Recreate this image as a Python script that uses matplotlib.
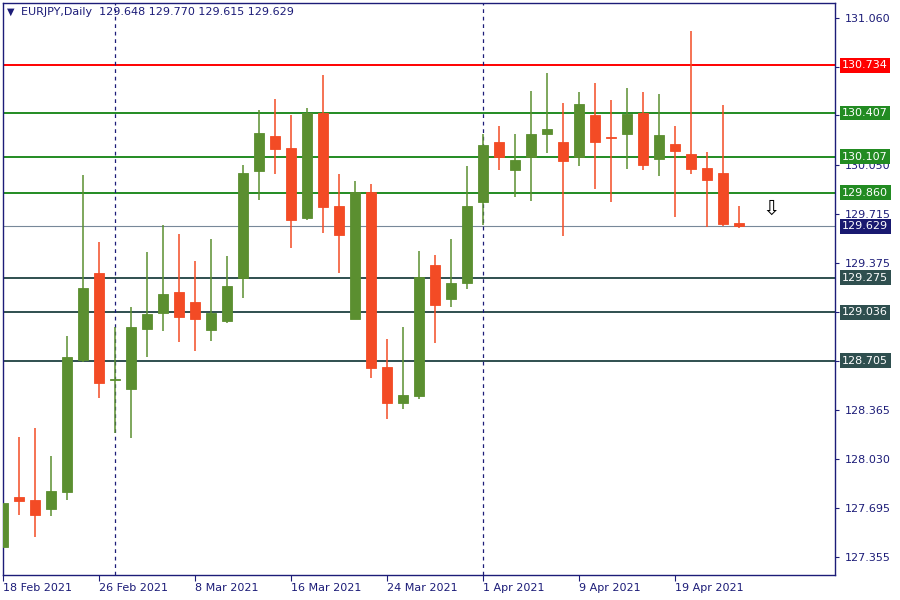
import matplotlib
matplotlib.use('Agg')
import matplotlib.pyplot as plt
import matplotlib.transforms as mtransforms
import numpy as np

plt.rcParams['font.family'] = ['DejaVu Sans']
plt.rcParams['font.size'] = 8

# daily OHLC, EURJPY 18 Feb - 23 Apr 2021
opens = [127.426, 127.767, 127.747, 127.687, 127.804, 128.709, 129.307, 128.570, 128.512, 128.924,
         129.032, 129.177, 129.108, 128.917, 128.979, 129.275, 130.010, 130.249, 130.166, 129.687,
         130.405, 129.768, 128.993, 129.864, 128.661, 128.416, 128.464, 129.362, 129.130, 129.240,
         129.797, 130.208, 130.017, 130.107, 130.263, 130.208, 130.107, 130.393, 130.242, 130.265,
         130.407, 130.093, 130.194, 130.125, 130.029, 129.995, 129.648]
highs = [127.802, 128.180, 128.242, 128.049, 128.874, 129.981, 129.520, 128.938, 129.073, 129.451,
         129.637, 129.575, 129.390, 129.541, 129.424, 130.050, 130.428, 130.503, 130.393, 130.441,
         130.668, 129.988, 129.940, 129.919, 128.853, 128.936, 129.458, 129.431, 129.541, 130.043,
         130.263, 130.318, 130.263, 130.558, 130.682, 130.476, 130.551, 130.613, 130.496, 130.579,
         130.551, 130.538, 130.318, 130.971, 130.139, 130.462, 129.770]
lows = [127.316, 127.644, 127.494, 127.637, 127.749, 128.695, 128.450, 128.209, 128.175, 128.732,
        128.908, 128.833, 128.773, 128.842, 128.960, 129.137, 129.809, 129.988, 129.481, 129.674,
        129.584, 129.309, 128.990, 128.587, 128.301, 128.374, 128.443, 128.828, 129.075, 129.199,
        129.639, 130.017, 129.832, 129.804, 130.134, 129.564, 130.045, 129.887, 129.797, 130.024,
        130.017, 129.976, 129.694, 129.990, 129.625, 129.632, 129.615]
closes = [127.726, 127.742, 127.646, 127.809, 128.730, 129.204, 128.553, 128.577, 128.936, 129.027,
          129.163, 129.007, 128.993, 129.032, 129.218, 129.995, 130.269, 130.162, 129.674, 130.405,
          129.763, 129.570, 129.864, 128.656, 128.416, 128.468, 129.280, 129.089, 129.238, 129.768,
          130.187, 130.107, 130.084, 130.263, 130.297, 130.079, 130.469, 130.210, 130.238, 130.400,
          130.052, 130.254, 130.148, 130.024, 129.948, 129.646, 129.629]

# date axis
tick_idx = [0, 6, 12, 18, 24, 30, 36, 42]
tick_labels = ['18 Feb 2021', '26 Feb 2021', '8 Mar 2021', '16 Mar 2021',
               '24 Mar 2021', '1 Apr 2021', '9 Apr 2021', '19 Apr 2021']
separator_idx = [7, 30]   # 1 Mar, 1 Apr

# horizontal levels
level_values = [130.734, 130.407, 130.107, 129.860, 129.275, 129.036, 128.705]
level_colors = ['#ff0000', '#228b22', '#228b22', '#228b22', '#2f4f4f', '#2f4f4f', '#2f4f4f']
last_price = 129.629

price_ticks = [127.355, 127.695, 128.030, 128.365, 128.705, 129.040, 129.375,
               129.715, 130.050, 130.390, 130.725, 131.060]
# these sit fully under a level box, so the terminal hides their text
hidden_ticks = [128.705, 129.040, 130.390, 130.725]

signal_idx = 48
signal_price = 129.745

header = 'EURJPY,Daily  129.648 129.770 129.615 129.629'

GREEN = '#5b8f30'
RED = '#f34b25'
NAVY = '#1c1c78'

fig = plt.figure(figsize=(9, 6), dpi=100)
ax = fig.add_axes([3 / 900, 25 / 600, 832 / 900, 572 / 600])

x = np.arange(len(opens))
o = np.array(opens)
h = np.array(highs)
l = np.array(lows)
c = np.array(closes)
cols = [GREEN if cc >= oo else RED for oo, cc in zip(o, c)]

# price levels
for val, col in zip(level_values, level_colors):
    ax.axhline(val, color=col, lw=1.4, zorder=1)
ax.axhline(last_price, color='#778899', lw=0.8, zorder=1)

# period separators
for s in separator_idx:
    ax.axvline(s, color=NAVY, lw=0.9, ls=(0, (3, 3)), zorder=1)

# candles
ax.vlines(x, l, h, colors=cols, lw=1.1, zorder=2)
ax.bar(x, np.abs(c - o), bottom=np.minimum(o, c), width=0.65, color=cols,
       edgecolor=cols, lw=0.6, zorder=3)

# signal arrow
ax.text(signal_idx, signal_price, '\u21e9', fontsize=15, ha='center', va='center',
        color='black', zorder=4)

ax.set_xlim(0, 52)
ax.set_ylim(127.231, 131.163)

ax.yaxis.tick_right()
ax.set_yticks(price_ticks)
ax.set_yticklabels(['' if v in hidden_ticks else f'{v:.3f}' for v in price_ticks])
ax.tick_params(axis='y', length=3, width=0.8, color=NAVY, labelcolor=NAVY, pad=4, labelsize=8)

ax.set_xticks(tick_idx)
ax.set_xticklabels(tick_labels, ha='left')
ax.tick_params(axis='x', length=4, width=0.8, color=NAVY, labelcolor=NAVY, pad=2, labelsize=8)

for sp in ax.spines.values():
    sp.set_color(NAVY)
    sp.set_linewidth(1.0)

# right-side price boxes
trans = mtransforms.blended_transform_factory(ax.transAxes, ax.transData)
for val, col in zip(level_values, level_colors):
    ax.text(1.0085, val, f'{val:.3f}', transform=trans, ha='left', va='center',
            color='white', fontsize=8, zorder=6, clip_on=False,
            bbox=dict(boxstyle='square,pad=0.22', fc=col, ec='none'))
ax.text(1.0085, last_price, f'{last_price:.3f}', transform=trans, ha='left', va='center',
        color='white', fontsize=8, zorder=6, clip_on=False,
        bbox=dict(boxstyle='square,pad=0.22', fc='#191970', ec='none'))

# header
fig.text(7 / 900, 1 - 12 / 600, '\u25bc', fontsize=7, color=NAVY, va='center', ha='left')
fig.text(21 / 900, 1 - 12 / 600, header, fontsize=8, color=NAVY, va='center', ha='left')

fig.savefig('out.png', dpi=100, facecolor='white')
